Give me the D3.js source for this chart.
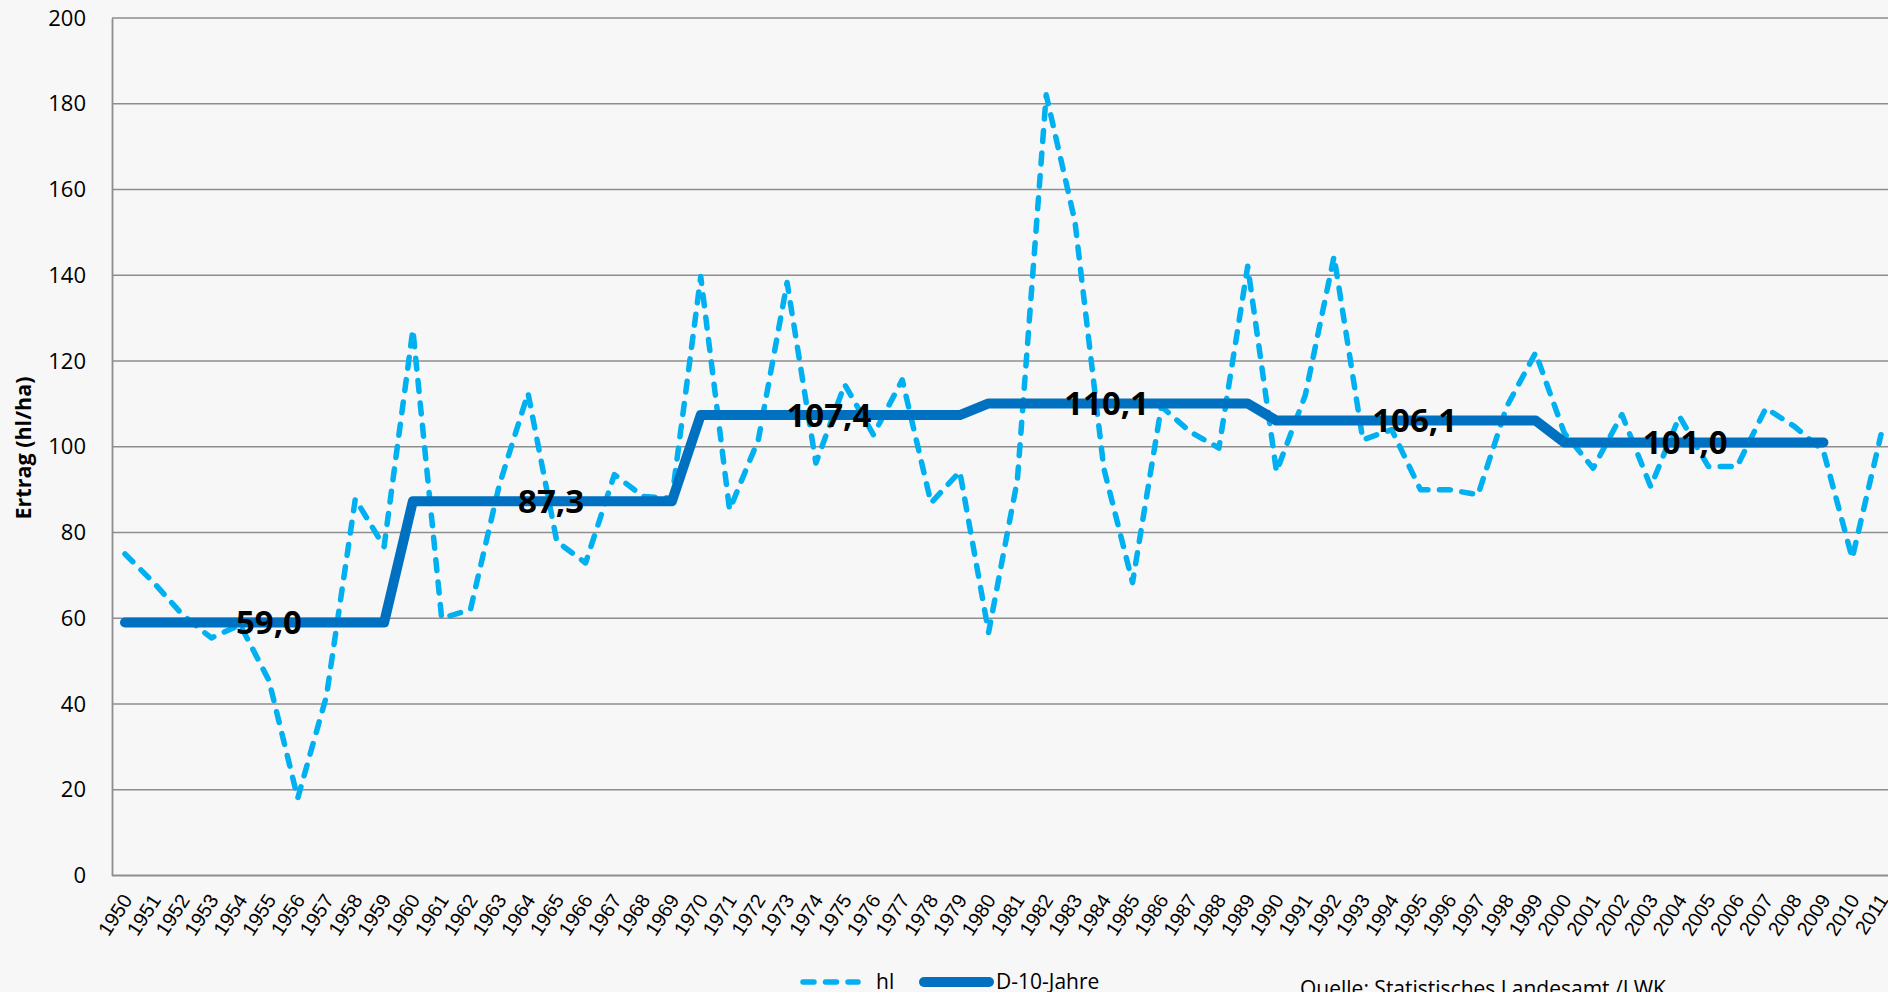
<!DOCTYPE html>
<html>
<head>
<meta charset="utf-8">
<script src="https://cdn.jsdelivr.net/npm/d3@7"></script>
<style>
  html, body { margin: 0; padding: 0; background: #f7f7f7; overflow: hidden; }
  svg { display: block; }
</style>
</head>
<body>
<svg id="chart" width="1888" height="992"></svg>
<script>
// Jahre 1950-2011
var years = d3.range(1950, 2012);

// Ertrag hl/ha je Jahr
var hl = [75.0, 68.3, 60.8, 55.4, 58.5, 45.5, 18.0, 41.9, 87.8, 76.7,
          127.3, 60.0, 62.0, 91.0, 112.5, 77.9, 72.9, 93.5, 88.4, 88.0,
          139.7, 85.3, 101.6, 138.3, 96.2, 114.5, 102.8, 115.6, 86.9, 94.2,
          56.7, 92.3, 182.1, 152.5, 95.0, 68.3, 109.4, 103.5, 99.7, 142.1,
          94.2, 112.0, 144.4, 101.6, 104.0, 90.0, 90.0, 88.8, 109.4, 121.9,
          103.2, 95.0, 107.5, 90.7, 107.1, 95.4, 95.4, 109.0, 104.7, 99.0,
          74.0, 102.8];

// 10-Jahres-Durchschnitt
var decadeStart = [1950, 1960, 1970, 1980, 1990, 2000];
var decadeMean  = [59.0, 87.3, 107.4, 110.1, 106.1, 101.0];
var labelYear   = [1955, 1964.8, 1974.45, 1984.1, 1994.8, 2004.2];
var yTicks = [0, 20, 40, 60, 80, 100, 120, 140, 160, 180, 200];

var meanSeries = [];
for (var i = 0; i < decadeStart.length; i++) {
    for (var j = 0; j < 10; j++) {
        meanSeries.push({ year: decadeStart[i] + j, value: decadeMean[i] });
    }
}

var svg = d3.select("#chart");
var W = 1888, H = 992;
var plotLeft = 112, plotTop = 18, plotBottom = 875.5;

var x = d3.scaleLinear().domain([1950, 2011]).range([125, 1881]);
var y = d3.scaleLinear().domain([0, 200]).range([plotBottom, plotTop]);

svg.append("rect").attr("width", W).attr("height", H).attr("fill", "#f7f7f7");

// Gitternetz
svg.append("g").selectAll("line")
    .data(yTicks.filter(function(d) { return d > 0; }))
    .enter().append("line")
    .attr("x1", plotLeft).attr("x2", W)
    .attr("y1", function(d) { return y(d); })
    .attr("y2", function(d) { return y(d); })
    .attr("stroke", "#8e8e8e").attr("stroke-width", 1.6);

// y-Achse
var yAxis = d3.axisLeft(y).tickValues(yTicks).tickSize(0).tickPadding(26);
var gy = svg.append("g").attr("transform", "translate(" + plotLeft + ",0)").call(yAxis);
gy.select(".domain").attr("stroke", "#8e8e8e").attr("stroke-width", 1.8);
gy.selectAll("text")
    .attr("font-family", "'Open Sans', sans-serif")
    .attr("font-size", 22).attr("fill", "#000");

// x-Achse
svg.append("line").attr("x1", plotLeft).attr("x2", W)
    .attr("y1", plotBottom).attr("y2", plotBottom)
    .attr("stroke", "#8e8e8e").attr("stroke-width", 1.8);

svg.append("g").selectAll("text")
    .data(years)
    .enter().append("text")
    .attr("transform", function(d) { return "translate(" + (x(d) + 8) + ",900) rotate(-57)"; })
    .attr("text-anchor", "end")
    .attr("font-family", "'Liberation Sans', Arial, sans-serif")
    .attr("font-size", 20)
    .attr("fill", "#000")
    .text(function(d) { return d; });

// Achsentitel
svg.append("text")
    .attr("transform", "translate(31,448) rotate(-90)")
    .attr("text-anchor", "middle")
    .attr("font-family", "'Open Sans', sans-serif")
    .attr("font-weight", "bold").attr("font-size", 21.5)
    .text("Ertrag (hl/ha)");

// hl-Linie (gestrichelt)
var line = d3.line()
    .x(function(d, i) { return x(years[i]); })
    .y(function(d) { return y(d); });

svg.append("path")
    .datum(hl)
    .attr("d", line)
    .attr("fill", "none")
    .attr("stroke", "#00b0f0")
    .attr("stroke-width", 5.5)
    .attr("stroke-dasharray", "11,11.5")
    .attr("stroke-linecap", "round")
    .attr("stroke-linejoin", "round");

// D-10-Jahre
var meanLine = d3.line()
    .x(function(d) { return x(d.year); })
    .y(function(d) { return y(d.value); });

svg.append("path")
    .datum(meanSeries)
    .attr("d", meanLine)
    .attr("fill", "none")
    .attr("stroke", "#0070c0")
    .attr("stroke-width", 10)
    .attr("stroke-linecap", "round")
    .attr("stroke-linejoin", "round");

svg.append("g").selectAll("text")
    .data(decadeMean)
    .enter().append("text")
    .attr("x", function(d, i) { return x(labelYear[i]); })
    .attr("y", function(d) { return y(d); })
    .attr("dy", "0.36em")
    .attr("text-anchor", "middle")
    .attr("font-family", "'Open Sans', sans-serif")
    .attr("font-weight", "bold").attr("font-size", 33)
    .attr("fill", "#000")
    .text(function(d) { return d3.format(".1f")(d).replace(".", ","); });

// Legende
var lg = svg.append("g").attr("font-family", "'Open Sans', sans-serif").attr("font-size", 21);
lg.append("line").attr("x1", 803).attr("x2", 858).attr("y1", 982).attr("y2", 982)
    .attr("stroke", "#00b0f0").attr("stroke-width", 5.5)
    .attr("stroke-dasharray", "11,11.5").attr("stroke-linecap", "round");
lg.append("text").attr("x", 876).attr("y", 989).text("hl");
lg.append("line").attr("x1", 924).attr("x2", 989).attr("y1", 982).attr("y2", 982)
    .attr("stroke", "#0070c0").attr("stroke-width", 10).attr("stroke-linecap", "round");
lg.append("text").attr("x", 996).attr("y", 989).text("D-10-Jahre");

svg.append("text")
    .attr("x", 1300).attr("y", 996)
    .attr("font-family", "'Open Sans', sans-serif").attr("font-size", 21)
    .text("Quelle: Statistisches Landesamt /LWK");
</script>
</body>
</html>
